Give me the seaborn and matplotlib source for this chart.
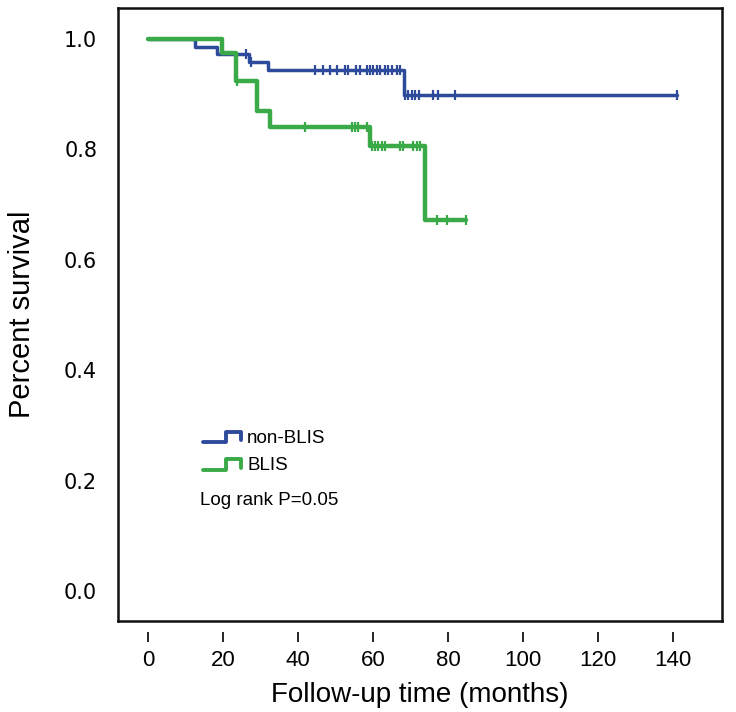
"""
Kaplan-Meier style survival plot: non-BLIS vs BLIS.
Saves out.png (736x712).
"""

import matplotlib.pyplot as plt
import numpy as np
import pandas as pd
import seaborn as sns
from matplotlib.legend_handler import HandlerLine2D
from matplotlib.lines import Line2D

OUT_FILE = "out.png"

# ── step curves (time in months, survival after the step) ───────────────────
nonblis_time = [0, 12.5, 18.4, 26.9, 32.0, 68.3, 141.0]
nonblis_surv = [1.0, 0.986, 0.972, 0.959, 0.944, 0.899, 0.899]
nonblis_cens = [26.1, 27.4, 44.5, 46.7, 48.5, 50.4, 52.5, 53.3, 55.5, 56.5,
                58.4, 59.2, 60.0, 61.1, 61.9, 63.2, 64.0, 65.1, 66.4, 67.3,
                68.5, 69.3, 70.4, 71.2, 72.3, 76.0, 77.3, 81.9, 141.0]

blis_time = [0, 19.6, 23.4, 29.0, 32.5, 59.1, 73.9, 84.8]
blis_surv = [1.0, 0.974, 0.923, 0.869, 0.841, 0.806, 0.673, 0.673]
blis_cens = [23.7, 41.9, 54.3, 55.2, 56.1, 58.3, 59.7, 60.5, 61.4, 62.3,
             63.2, 67.2, 68.0, 70.7, 71.6, 72.5, 77.0, 79.6, 84.8]

groups      = ["non-BLIS", "BLIS"]
colors      = {"non-BLIS": "#2e4b9b", "BLIS": "#3aaa48"}
line_widths = {"non-BLIS": 2.5, "BLIS": 3.2}
x_ticks     = [0, 20, 40, 60, 80, 100, 120, 140]
y_ticks     = [0.0, 0.2, 0.4, 0.6, 0.8, 1.0]
p_text      = "Log rank P=0.05"


def surv_at(times, survs, t):
    idx = np.searchsorted(times, t, side="right") - 1
    return survs[max(idx, 0)]


class StepHandler(HandlerLine2D):
    """Legend icon drawn as a small survival step."""

    def create_artists(self, legend, orig_handle, xdescent, ydescent,
                       width, height, fontsize, trans):
        xs = -xdescent + np.array([0, 0.62, 0.62, 1.0, 1.0]) * width
        ys = -ydescent + np.array([0.05, 0.05, 0.85, 0.85, 0.2]) * height
        line = Line2D(xs, ys)
        self.update_prop(line, orig_handle, legend)
        line.set_transform(trans)
        return [line]


curves = pd.concat([
    pd.DataFrame({"time": nonblis_time, "surv": nonblis_surv, "group": "non-BLIS"}),
    pd.DataFrame({"time": blis_time, "surv": blis_surv, "group": "BLIS"}),
])
cens = pd.concat([
    pd.DataFrame({"time": nonblis_cens,
                  "surv": [surv_at(nonblis_time, nonblis_surv, t) for t in nonblis_cens],
                  "group": "non-BLIS"}),
    pd.DataFrame({"time": blis_cens,
                  "surv": [surv_at(blis_time, blis_surv, t) for t in blis_cens],
                  "group": "BLIS"}),
])

sns.set_style("white")
plt.rcParams["font.family"] = ["Liberation Sans", "DejaVu Sans"]
plt.rcParams["text.color"] = "black"
plt.rcParams["axes.labelcolor"] = "black"

fig = plt.figure(figsize=(7.36, 7.12), dpi=100)
ax = fig.add_axes([118 / 736, (712 - 621) / 712, 604 / 736, 613 / 712])

for g in groups:
    sub = curves[curves["group"] == g]
    sns.lineplot(data=sub, x="time", y="surv", color=colors[g],
                 lw=line_widths[g], drawstyle="steps-post",
                 estimator=None, sort=False, legend=False, ax=ax)
    csub = cens[cens["group"] == g]
    sns.scatterplot(data=csub, x="time", y="surv", color=colors[g],
                    marker="|", s=50, linewidth=1.6, legend=False, ax=ax, zorder=3)

ax.set_xlim(-8, 153)
ax.set_ylim(-0.054, 1.056)

# y axis: ticks attached to the frame
ax.set_yticks(y_ticks)
ax.set_yticklabels([f"{v:.1f}" for v in y_ticks], fontfamily="DejaVu Sans", fontsize=15)
ax.tick_params(axis="y", direction="out", length=9, width=1.2, pad=6,
               colors="black", labelcolor="black")
ax.set_ylabel("Percent survival", fontsize=21, labelpad=20)

# x axis: ticks detached below the frame
ax.set_xticks([])
ax.set_xlabel("")
sec = ax.secondary_xaxis(-0.018)
sec.spines["bottom"].set_visible(False)
sec.set_xticks(x_ticks)
sec.set_xticklabels([str(v) for v in x_ticks], fontsize=16)
sec.tick_params(axis="x", direction="out", length=7, width=1.2, pad=6,
                colors="black", labelcolor="black")
sec.set_xlabel("Follow-up time (months)", fontsize=20, labelpad=8, color="black")

for s in ax.spines.values():
    s.set_visible(True)
    s.set_linewidth(1.8)
    s.set_color("#111111")

handles = [Line2D([], [], color=colors[g], lw=2.8) for g in groups]
leg = ax.legend(handles, groups, handler_map={Line2D: StepHandler()},
                loc="upper left", bbox_to_anchor=(0.141, 0.312), frameon=False,
                fontsize=13.5, handlelength=2.0, handletextpad=0.35,
                labelspacing=0.55, borderpad=0, borderaxespad=0)
for t in leg.get_texts():
    t.set_color("black")
ax.text(0.136, 0.196, p_text, transform=ax.transAxes, fontsize=13.5,
        ha="left", va="center", color="black")

fig.savefig(OUT_FILE, dpi=100)
plt.close(fig)
